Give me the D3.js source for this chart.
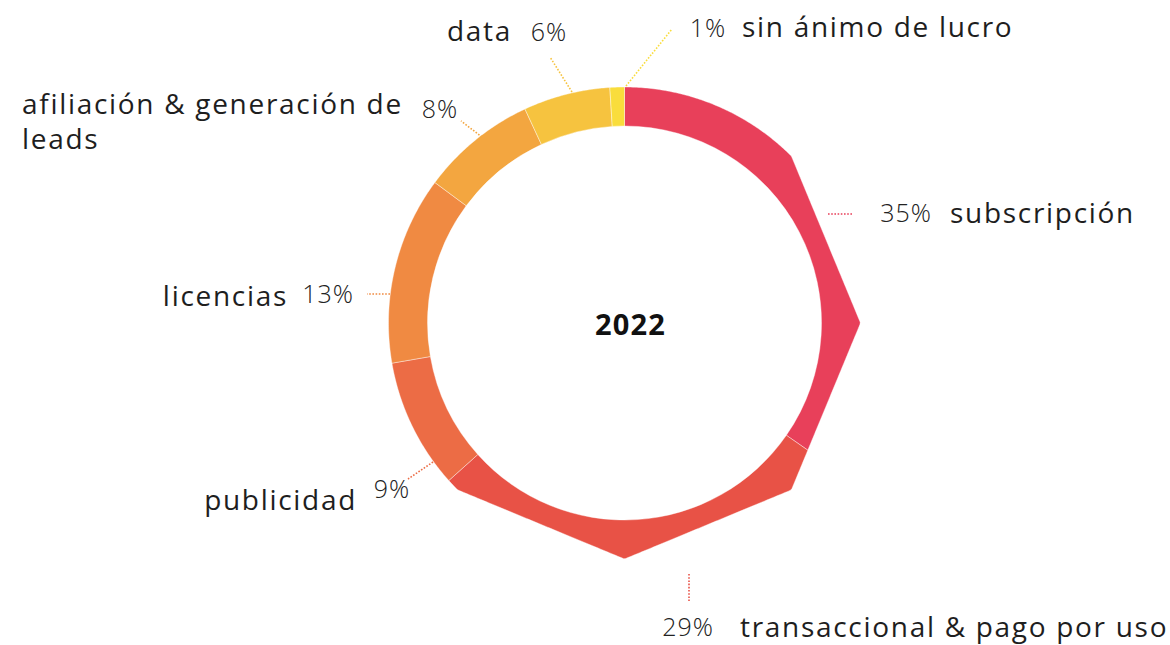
<!DOCTYPE html>
<html><head><meta charset="utf-8">
<script src="https://cdn.jsdelivr.net/npm/d3@7/dist/d3.min.js"></script>
<style>
html,body{margin:0;padding:0;background:#fff;}
svg{display:block;}
text{font-family:"Open Sans",sans-serif;fill:#1e1e1e;}
</style></head>
<body>
<svg id="chart" width="1170" height="645"></svg>
<script>
const categories = ["subscripción","transaccional & pago por uso","publicidad","licencias","afiliación & generación de leads","data","sin ánimo de lucro"];
const values = [35, 29, 9, 13, 8, 6, 1];
const pctLabels = ["35%","29%","9%","13%","8%","6%","1%"];
const colors = ["#E8405A","#E85246","#EC6C45","#F08A42","#F3A640","#F6C33F","#F9DD3C"];
const centerLabel = "2022";

// layout
const cx = 624.5, cy = 323, R = 236, R0 = 197;
const labelLayout = [
  {pct:[906,215], name:[950,216], nameAnchor:"start", lines:[[828,214],[853,214]]},
  {pct:[688,629], name:[740,630], nameAnchor:"start", lines:[[689,574],[689,601]]},
  {pct:[392,491], name:[357,503], nameAnchor:"end", lines:[[433,462],[408,479]]},
  {pct:[328,296], name:[288,299], nameAnchor:"end", lines:[[390,294],[367,294]]},
  {pct:[440,111], name:[22,107], nameAnchor:"start", lines:[[482,137],[461,121]], name2:[22,142]},
  {pct:[549,34], name:[512,34], nameAnchor:"end", lines:[[572,92],[550,57]]},
  {pct:[708,30], name:[742,30], nameAnchor:"start", lines:[[626,86],[672,29]]}
];

const svg = d3.select("#chart");
const g = svg.append("g").attr("transform", `translate(${cx},${cy})`);

const pie = d3.pie().sort(null).value(d => d);
const arcs = pie(values);

const Q = Math.PI/4;
function outerR(t){
  if (t >= Q - 1e-9 && t <= 5*Q + 1e-9){
    let k = Math.floor(t / Q); if (k > 4) k = 4;
    const mid = (k + 0.5) * Q;
    return R * Math.cos(Q/2) / Math.cos(t - mid);
  }
  return R;
}
function slicePath(d){
  const p = d3.path();
  const a0 = d.startAngle, a1 = d.endAngle;
  const steps = Math.max(2, Math.ceil((a1 - a0) / (Math.PI/360)));
  for (let i = 0; i <= steps; i++){
    const t = a0 + (a1 - a0) * i / steps;
    const r = outerR(t);
    const x = r * Math.sin(t), y = -r * Math.cos(t);
    if (i === 0) p.moveTo(x, y); else p.lineTo(x, y);
  }
  p.lineTo(R0 * Math.sin(a1), -R0 * Math.cos(a1));
  p.arc(0, 0, R0, a1 - Math.PI/2, a0 - Math.PI/2, true);
  p.closePath();
  return p.toString();
}

g.selectAll("path.slice").data(arcs).enter().append("path")
  .attr("class","slice")
  .attr("d", slicePath)
  .attr("fill", (d,i) => colors[i])
  .attr("stroke", "#fff").attr("stroke-width", 0.4);

g.append("text").attr("x", 6).attr("y", 4)
  .attr("text-anchor","middle").attr("dominant-baseline","middle")
  .style("font-weight","700").style("font-size","29px").style("letter-spacing","1.2px").style("fill","#111")
  .text(centerLabel);

// leaders and labels
const L = svg.append("g");
function nameText(x, y, anchor, s){
  L.append("text").attr("x", x).attr("y", y)
    .attr("text-anchor", anchor).attr("dominant-baseline","middle")
    .style("font-size","28px").style("letter-spacing","1.7px").text(s);
}
categories.forEach((c, i) => {
  const lay = labelLayout[i];
  L.append("line")
    .attr("x1", lay.lines[0][0]).attr("y1", lay.lines[0][1])
    .attr("x2", lay.lines[1][0]).attr("y2", lay.lines[1][1])
    .attr("stroke", colors[i]).attr("stroke-width", 1.6)
    .attr("stroke-dasharray", "1.6,1.6");
  L.append("text").attr("x", lay.pct[0]).attr("y", lay.pct[1])
    .attr("text-anchor","middle").attr("dominant-baseline","middle")
    .style("font-size","25px").style("font-weight","300").style("letter-spacing","1px").style("fill","#222")
    .text(pctLabels[i]);
  if (lay.name2){
    nameText(lay.name[0], lay.name[1], lay.nameAnchor, "afiliación & generación de");
    nameText(lay.name2[0], lay.name2[1], lay.nameAnchor, "leads");
  } else {
    nameText(lay.name[0], lay.name[1], lay.nameAnchor, c);
  }
});
</script>
</body></html>
